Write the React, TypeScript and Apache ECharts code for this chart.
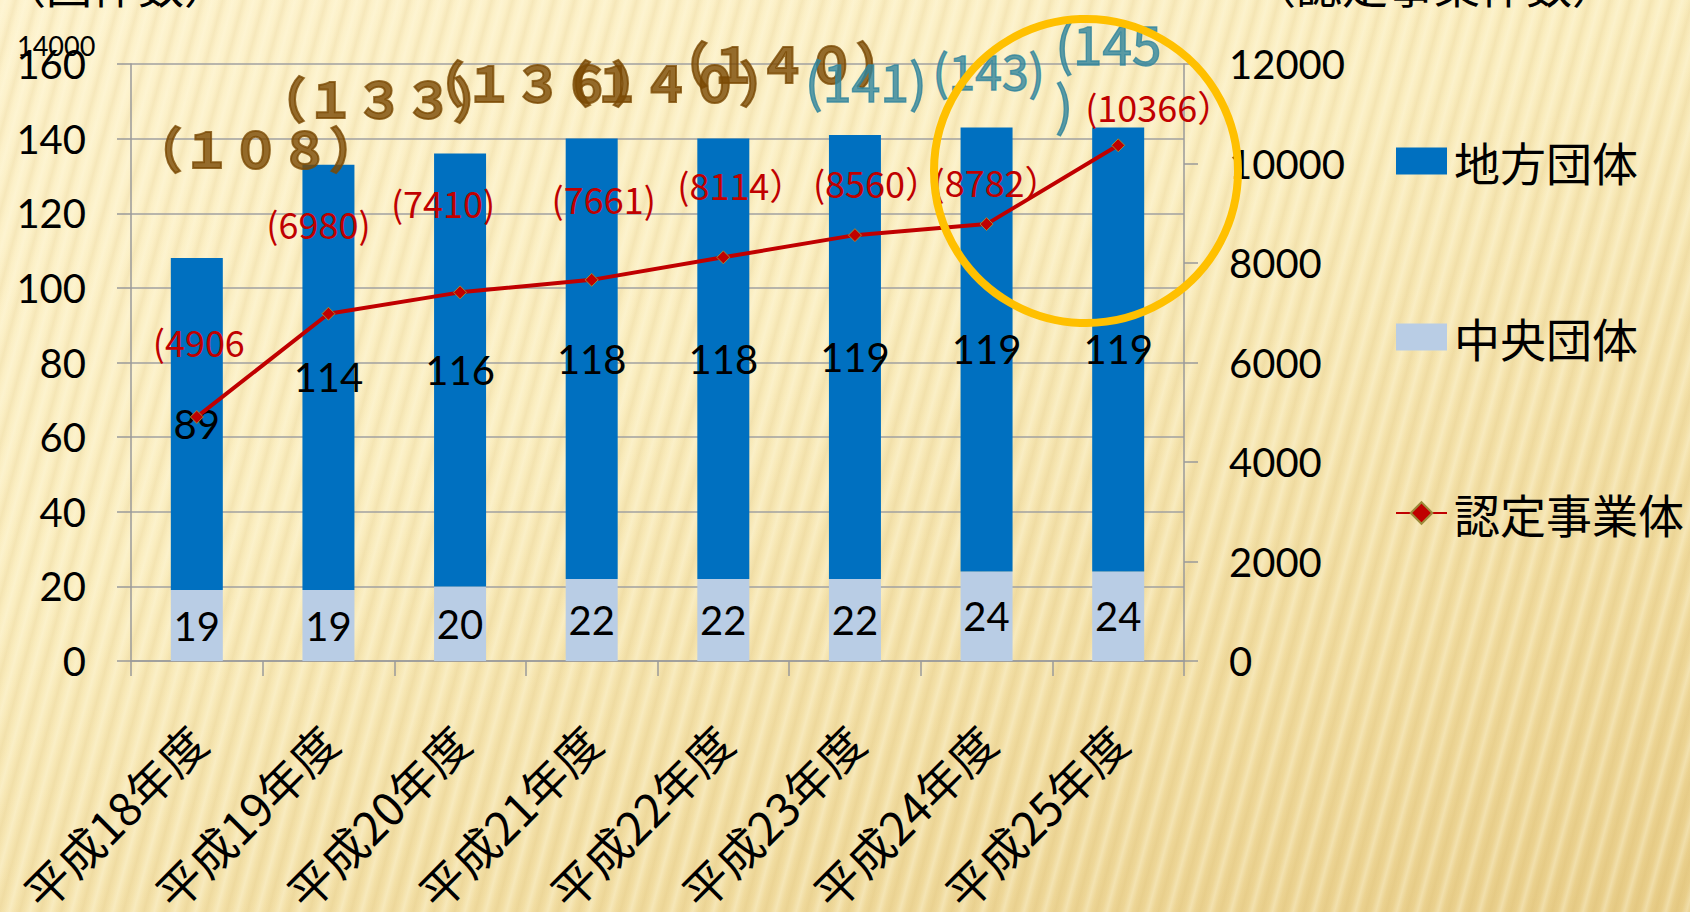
import React, { useEffect, useRef } from "react";
import * as echarts from "echarts";

// ---- data ----
const categories = ["平成18年度", "平成19年度", "平成20年度", "平成21年度", "平成22年度", "平成23年度", "平成24年度", "平成25年度"];
const centralValues = [19, 19, 20, 22, 22, 22, 24, 24];
const localValues = [89, 114, 116, 118, 118, 119, 119, 119];
const certifiedValues = [4906, 6980, 7410, 7661, 8114, 8560, 8782, 10366];
const certifiedLabels = ["(4906", "(6980)", "(7410)", "(7661)", "(8114）", "(8560）", "(8782）", "(10366）"];
const totalNoteValues = [108, 133, 136, 140, 140, 141, 143, 145];
const totalNotes = ["（１０８）", "（１３３）", "（１３６）", "（１４０）", "（１４０）", "(141)", "(143)", "(145\n)"];
const seriesNames = ["地方団体", "中央団体", "認定事業体"];
const leftAxis = { min: 0, max: 160, interval: 20 };
const rightAxis = { min: 0, max: 12000, interval: 2000 };

// ---- styles (not data) ----
const lineLabelOffsets = [[2, -76], [-10, -91], [-17, -90], [12, -82], [18, -73], [22, -53], [10, -43], [41, -39]];
const noteOffsets = [[59, -112], [51, -68], [78, -73], [74, -58], [59, -77], [11, -55], [2, -58], [-63, -48]];
const noteColors = ["#7A4A04", "#7A4A04", "#7A4A04", "#7A4A04", "#7A4A04", "#31859C", "#31859C", "#31859C"];
const noteSizes = [49, 49, 49, 49, 49, 52, 48, 53];

const NUM_FONT = "Lato, 'Noto Sans', sans-serif";
const CJK_FONT = "'Noto Sans CJK JP', 'Noto Sans', sans-serif";

export default function App() {
  const ref = useRef<HTMLDivElement>(null);

  useEffect(() => {
    if (!ref.current) return;
    const chart = echarts.init(ref.current, null, { renderer: "svg" });

    const option: any = {
      animation: false,
      backgroundColor: "transparent",
      grid: { left: 131, right: 506, top: 64, bottom: 251, containLabel: false, outerBoundsMode: "none" },
      legend: {
        orient: "vertical",
        left: 1390,
        top: 133,
        itemWidth: 51,
        itemHeight: 27,
        itemGap: 130,
        textStyle: { fontSize: 46, color: "#000", fontFamily: CJK_FONT, padding: [0, 0, 0, 2] },
        data: [
          { name: seriesNames[0], icon: "rect" },
          { name: seriesNames[1], icon: "rect" },
          { name: seriesNames[2] },
        ],
      },
      xAxis: {
        type: "category",
        data: categories,
        boundaryGap: true,
        axisLine: { lineStyle: { color: "#9A9A9A", width: 1.5 } },
        axisTick: { show: true, length: 15, alignWithLabel: false, lineStyle: { color: "#9A9A9A", width: 1.5 } },
        axisLabel: {
          rotate: 45,
          margin: 72,
          fontSize: 46,
          color: "#000",
          fontFamily: CJK_FONT,
          interval: 0,
        },
      },
      yAxis: [
        {
          type: "value",
          min: leftAxis.min,
          max: leftAxis.max,
          interval: leftAxis.interval,
          axisLine: { show: true, lineStyle: { color: "#9A9A9A", width: 1.5 } },
          axisTick: { show: true, length: 14, lineStyle: { color: "#9A9A9A", width: 1.5 } },
          splitLine: { show: true, lineStyle: { color: "#A0A0A0", width: 1.5 } },
          axisLabel: { fontSize: 40, color: "#000", fontFamily: NUM_FONT, margin: 45 },
        },
        {
          type: "value",
          min: rightAxis.min,
          max: rightAxis.max,
          interval: rightAxis.interval,
          position: "right",
          axisLine: { show: true, lineStyle: { color: "#9A9A9A", width: 1.5 } },
          axisTick: { show: true, length: 14, lineStyle: { color: "#9A9A9A", width: 1.5 } },
          splitLine: { show: false },
          axisLabel: { fontSize: 40, color: "#000", fontFamily: NUM_FONT, margin: 45, formatter: (v: number) => String(v) },
        },
      ],
      series: [
        {
          name: seriesNames[1],
          type: "bar",
          stack: "total",
          barWidth: 52,
          data: centralValues,
          itemStyle: { color: "#B9CDE5" },
          label: { show: true, position: "inside", fontSize: 40, color: "#000", fontFamily: NUM_FONT },
          z: 2,
        },
        {
          name: seriesNames[0],
          type: "bar",
          stack: "total",
          barWidth: 52,
          data: localValues,
          itemStyle: { color: "#0070C0" },
          label: { show: true, position: "inside", fontSize: 40, color: "#000", fontFamily: NUM_FONT },
          z: 2,
        },
        {
          name: seriesNames[2],
          type: "line",
          yAxisIndex: 1,
          symbol: "diamond",
          symbolSize: 13,
          lineStyle: { color: "#C00000", width: 4 },
          itemStyle: { color: "#C00000", borderColor: "#9C8A3A", borderWidth: 1 },
          data: certifiedValues.map((v, i) => ({
            value: v,
            label: {
              show: true,
              position: "inside",
              offset: lineLabelOffsets[i],
              formatter: certifiedLabels[i],
              fontSize: 36,
              color: "#C00000",
              fontFamily: CJK_FONT,
            },
          })),
          z: 5,
        },
        {
          name: "notes",
          type: "scatter",
          yAxisIndex: 0,
          symbolSize: 0,
          silent: true,
          data: totalNoteValues.map((v, i) => ({
            value: v,
            label: {
              show: true,
              position: "inside",
              offset: noteOffsets[i],
              formatter: totalNotes[i],
              fontSize: noteSizes[i],
              fontWeight: i < 5 ? "bold" : "normal",
              color: noteColors[i],
              textBorderColor: noteColors[i],
              textBorderWidth: i < 5 ? 2 : 1.4,
              fontFamily: CJK_FONT,
              align: i === 7 ? "left" : "center",
              verticalAlign: "middle",
              lineHeight: 60,
            },
          })),
          z: 6,
        },
      ],
      graphic: [
        {
          type: "circle",
          shape: { cx: 1086, cy: 171, r: 152 },
          style: { fill: "none", stroke: "#FFC000", lineWidth: 8 },
          z: 50,
        },
        {
          type: "text",
          left: 17,
          top: 32,
          style: { text: "14000", fontSize: 27, fill: "#000", fontFamily: NUM_FONT },
          z: 50,
        },
        {
          type: "text",
          x: 0,
          y: -40,
          style: { text: "（団体数）", fontSize: 46, fill: "#000", fontFamily: CJK_FONT, verticalAlign: "top", align: "left" },
          z: 50,
        },
        {
          type: "text",
          x: 1250,
          y: -40,
          style: { text: "（認定事業体数）", fontSize: 46, fill: "#000", fontFamily: CJK_FONT, verticalAlign: "top", align: "left" },
          z: 50,
        },
      ],
    };

    chart.setOption(option);
    return () => chart.dispose();
  }, []);

  const bg = [
    "repeating-linear-gradient(105deg, rgba(255,255,255,0) 0px, rgba(255,250,225,0.35) 5px, rgba(255,255,255,0) 10px, rgba(190,150,60,0.10) 15px, rgba(255,255,255,0) 20px)",
    "linear-gradient(160deg, #FDF2CC 0%, #FAEDBF 40%, #F1DCA0 75%, #E8CD88 100%)",
  ].join(", ");

  return (
    <div
      style={{
        position: "fixed",
        left: 0,
        top: 0,
        width: 1690,
        height: 912,
        background: bg,
        overflow: "hidden",
      }}
    >
      <div ref={ref} style={{ width: 1690, height: 912 }} />
    </div>
  );
}
